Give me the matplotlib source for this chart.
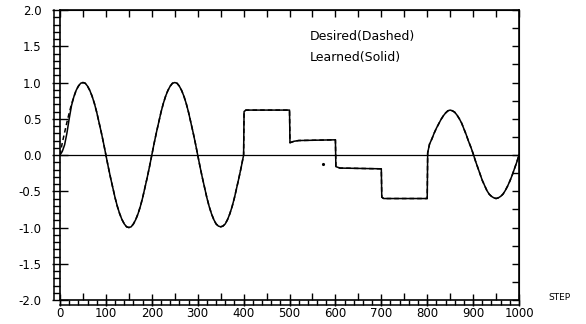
import matplotlib
matplotlib.use("Agg")
import matplotlib.pyplot as plt
from matplotlib.ticker import MultipleLocator, FormatStrFormatter

# first sine part, every 5 steps from 0 to 400
wave1_steps = list(range(0, 401, 5))
wave1_learned = [0.0, 0.05, 0.14, 0.30, 0.50, 0.68, 0.80, 0.89, 0.95, 0.99,
                 1.0, 0.99, 0.95, 0.89, 0.81, 0.71, 0.59, 0.45, 0.31, 0.16,
                 0.0, -0.16, -0.31, -0.45, -0.59, -0.71, -0.81, -0.89, -0.95, -0.99,
                 -1.0, -0.99, -0.95, -0.89, -0.81, -0.71, -0.59, -0.45, -0.31, -0.16,
                 0.0, 0.16, 0.31, 0.45, 0.59, 0.71, 0.81, 0.89, 0.95, 0.99,
                 1.0, 0.99, 0.95, 0.89, 0.81, 0.71, 0.59, 0.45, 0.31, 0.16,
                 0.0, -0.16, -0.31, -0.45, -0.59, -0.71, -0.81, -0.89, -0.95, -0.98,
                 -0.99, -0.98, -0.95, -0.89, -0.81, -0.71, -0.59, -0.45, -0.31, -0.16,
                 0.0]
start_desired = [0.0, 0.17, 0.31, 0.45, 0.58, 0.70]

# constant levels between 400 and 800
level_steps = [401, 405, 500, 501, 510, 520, 600, 601, 610, 700, 701, 705, 800]
level_values = [0.60, 0.62, 0.62, 0.17, 0.19, 0.20, 0.21, -0.16, -0.18, -0.19,
                -0.58, -0.60, -0.60]

# second sine part, every 5 steps from 801 to 1000
wave2_steps = [801] + list(range(805, 1001, 5))
wave2_values = [0.03, 0.15, 0.22, 0.30, 0.37, 0.43, 0.49, 0.54, 0.58, 0.61,
                0.62, 0.61, 0.59, 0.55, 0.50, 0.44, 0.36, 0.28, 0.19, 0.11,
                0.02, -0.08, -0.17, -0.26, -0.35, -0.42, -0.49, -0.54, -0.57, -0.59,
                -0.60, -0.59, -0.57, -0.54, -0.49, -0.43, -0.36, -0.28, -0.19, -0.10,
                0.0]

steps = wave1_steps + level_steps + wave2_steps
learned = wave1_learned + level_values + wave2_values
desired = start_desired + learned[len(start_desired):]

stray_x = [573]
stray_y = [-0.12]

fig = plt.figure(figsize=(5.86, 3.24), dpi=100)
ax = fig.add_axes([0.1024, 0.074, 0.7833, 0.895])

ax.axhline(0, color="black", lw=0.9)
ax.plot(steps, desired, color="black", lw=1.1, ls=(0, (3, 2)))
ax.plot(steps, learned, color="black", lw=1.1)
ax.plot(stray_x, stray_y, "k.", ms=2.5)

ax.set_xlim(0, 1000)
ax.set_ylim(-2, 2)

for s in ax.spines.values():
    s.set_linewidth(1.2)

# left / bottom ticks with labels
ax.xaxis.set_major_locator(MultipleLocator(100))
ax.xaxis.set_minor_locator(MultipleLocator(50))
ax.yaxis.set_major_locator(MultipleLocator(0.5))
ax.yaxis.set_minor_locator(MultipleLocator(0.1))
ax.yaxis.set_major_formatter(FormatStrFormatter("%.1f"))
ax.tick_params(axis="x", which="major", direction="inout", length=9, width=1,
               labelsize=8.5, pad=0.5)
ax.tick_params(axis="x", which="minor", direction="in", length=5, width=1)
ax.tick_params(axis="y", which="major", direction="inout", length=11, width=1,
               labelsize=8.5, pad=8)
ax.tick_params(axis="y", which="minor", direction="out", length=5, width=1)

# box pattern under the bottom spine and beside the left spine
bot = ax.secondary_xaxis("bottom")
bot.set_xticks(range(0, 1001, 20))
bot.tick_params(direction="out", length=3.6, width=1, labelbottom=False)
bot.spines["bottom"].set_visible(False)
ax.plot([0, 1], [-0.017, -0.017], transform=ax.transAxes, color="black",
        lw=1.1, clip_on=False)
ax.plot([-0.013, -0.013], [0, 1], transform=ax.transAxes, color="black",
        lw=1.1, clip_on=False)

# top / right ticks
top = ax.secondary_xaxis("top")
top.set_xticks(range(0, 1001, 50))
top.tick_params(direction="in", length=5, width=1, labeltop=False)
right = ax.secondary_yaxis("right")
right.set_yticks([-2 + 0.25 * i for i in range(17)])
right.tick_params(direction="in", length=5, width=1, labelright=False)

ax.text(545, 1.63, "Desired(Dashed)", fontsize=9, va="center")
ax.text(545, 1.35, "Learned(Solid)", fontsize=9, va="center")
fig.text(548 / 586, 1 - 297 / 324, "STEP", fontsize=6.5, va="center")

fig.savefig("out.png", dpi=100)
